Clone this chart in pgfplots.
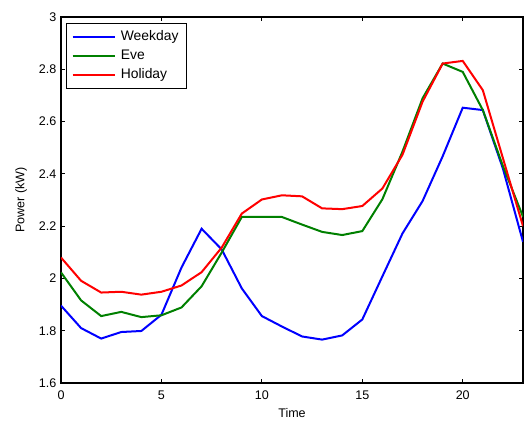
\documentclass[border=0pt]{standalone}
\usepackage{pgfplots}
\pgfplotsset{compat=1.18}
\usepackage{fontspec}
\setmainfont{Liberation Sans}
\definecolor{mgreen}{rgb}{0,0.5,0}
\begin{document}
\begin{tikzpicture}
\begin{axis}[
  name=ax, at={(0pt,0pt)}, anchor=south west,
  width=346.5pt, height=274.5pt, scale only axis,
  xmin=0, xmax=23, ymin=1.6, ymax=3,
  xtick={0,5,10,15,20}, ytick={1.6,1.8,2,2.2,2.4,2.6,2.8,3},
  yticklabels={1.6,1.8,2,2.2,2.4,2.6,2.8,3},
  /pgf/number format/assume math mode=true,
  ticklabel style={font=\fontsize{9.4}{11}\selectfont},
  xticklabel style={yshift=-2pt},
  label style={font=\fontsize{9.4}{11}\selectfont},
  xlabel={Time}, ylabel={Power (kW)},
  xlabel style={yshift=0pt},
  ylabel style={yshift=2pt},
  tick align=inside, major tick length=3pt,
  axis line style={line width=0.8pt},
  every tick/.style={black, line width=0.6pt},
  legend style={at={(0.0102,0.9845)}, anchor=north west, draw=black, line width=0.8pt,
    font=\fontsize{10.4}{12}\selectfont, inner xsep=4pt, inner ysep=3.5pt,
    row sep=1.5pt, cells={anchor=west}},
  legend image code/.code={\draw[#1, line width=1.5pt] (2.5pt,0pt) -- (34pt,0pt);\path (36pt,0pt);},
]
\addplot[blue, line width=1.5pt] coordinates {
(0,1.896)(1,1.810)(2,1.770)(3,1.795)(4,1.799)(5,1.861)(6,2.042)(7,2.190)
(8,2.111)(9,1.962)(10,1.856)(11,1.816)(12,1.778)(13,1.766)(14,1.782)(15,1.843)
(16,2.008)(17,2.172)(18,2.296)(19,2.467)(20,2.653)(21,2.644)(22,2.42)(23,2.14)};
\addlegendentry{Weekday}
\addplot[mgreen, line width=1.5pt] coordinates {
(0,2.023)(1,1.916)(2,1.856)(3,1.872)(4,1.852)(5,1.859)(6,1.889)(7,1.970)
(8,2.099)(9,2.235)(10,2.235)(11,2.235)(12,2.206)(13,2.178)(14,2.166)(15,2.181)
(16,2.303)(17,2.485)(18,2.689)(19,2.822)(20,2.790)(21,2.644)(22,2.43)(23,2.236)};
\addlegendentry{Eve}
\addplot[red, line width=1.5pt] coordinates {
(0,2.080)(1,1.991)(2,1.946)(3,1.949)(4,1.938)(5,1.949)(6,1.973)(7,2.024)
(8,2.118)(9,2.248)(10,2.302)(11,2.318)(12,2.314)(13,2.268)(14,2.265)(15,2.277)
(16,2.344)(17,2.473)(18,2.676)(19,2.822)(20,2.832)(21,2.720)(22,2.46)(23,2.20)};
\addlegendentry{Holiday}
\end{axis}
\pgfresetboundingbox
\path[use as bounding box] (-45.75pt,-28.5pt) rectangle (347.25pt,287.25pt);
\end{tikzpicture}
\end{document}
